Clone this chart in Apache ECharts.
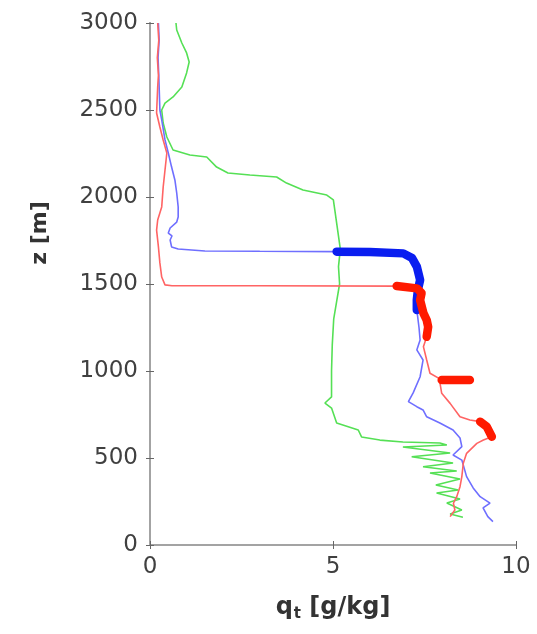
<!DOCTYPE html>
<html>
<head>
<meta charset="utf-8">
<script src="https://cdn.jsdelivr.net/npm/echarts@6/dist/echarts.min.js"></script>
<style>
  html, body { margin: 0; padding: 0; background: #fff; }
  #chart { width: 537px; height: 634px; }
</style>
</head>
<body>
<div id="chart"></div>
<script>
// axis ticks
var xTicks = [0, 5, 10];
var zTicks = [0, 500, 1000, 1500, 2000, 2500, 3000];

// green profile
var greenQ = [0.71, 0.73, 0.87, 1.00, 1.07, 1.00, 0.87, 0.63, 0.41, 0.32, 0.36, 0.46, 0.63, 1.09, 1.55, 1.82, 2.13, 2.73, 3.46, 3.73, 4.18, 4.83, 5.01, 5.05, 5.10, 5.20, 5.15, 5.18, 5.10, 5.02, 4.98, 4.96, 4.96, 4.96, 4.78, 4.96, 5.10, 5.69, 5.78, 6.28, 6.91, 7.92, 8.11, 6.91, 8.20, 7.15, 8.28, 7.46, 8.38, 7.65, 8.47, 7.81, 8.42, 7.83, 8.47, 8.11, 8.52, 8.20, 8.55];
var greenZ = [3000, 2960, 2885, 2828, 2776, 2713, 2632, 2575, 2540, 2500, 2425, 2345, 2270, 2241, 2230, 2172, 2138, 2126, 2115, 2080, 2040, 2011, 1983, 1925, 1850, 1700, 1600, 1500, 1400, 1300, 1150, 1000, 948, 851, 816, 787, 701, 661, 621, 603, 592, 586, 575, 563, 529, 507, 471, 450, 425, 414, 379, 345, 316, 299, 264, 241, 201, 178, 160];

// blue profile
var blueQ = [0.23, 0.25, 0.22, 0.24, 0.25, 0.27, 0.32, 0.41, 0.50, 0.59, 0.68, 0.73, 0.77, 0.77, 0.73, 0.55, 0.50, 0.60, 0.55, 0.59, 0.77, 1.50, 3.00, 5.10, 6.01, 6.92, 7.16, 7.29, 7.38, 7.32, 7.29, 7.29, 7.35, 7.38, 7.29, 7.46, 7.38, 7.19, 7.06, 7.29, 7.46, 7.56, 7.92, 8.28, 8.47, 8.52, 8.28, 8.52, 8.65, 8.83, 9.02, 9.29, 9.10, 9.23, 9.37];
var blueZ = [3000, 2900, 2800, 2700, 2632, 2500, 2443, 2328, 2253, 2172, 2098, 2023, 1943, 1885, 1856, 1822, 1793, 1776, 1753, 1713, 1701, 1690, 1688, 1686, 1684, 1676, 1649, 1600, 1523, 1466, 1408, 1351, 1250, 1178, 1121, 1063, 967, 874, 824, 795, 776, 737, 701, 661, 615, 565, 517, 488, 393, 328, 278, 241, 213, 163, 134];
// blue thick part
var blueCloudQ = [5.10, 6.01, 6.92, 7.16, 7.29, 7.38, 7.32, 7.29, 7.29];
var blueCloudZ = [1686, 1684, 1676, 1649, 1600, 1523, 1466, 1408, 1351];

// red profile
var redQ = [0.21, 0.24, 0.20, 0.23, 0.21, 0.18, 0.27, 0.36, 0.46, 0.41, 0.36, 0.32, 0.21, 0.18, 0.23, 0.27, 0.32, 0.41, 0.60, 3.00, 6.74, 7.29, 7.42, 7.38, 7.47, 7.56, 7.60, 7.56, 7.47, 7.56, 7.65, 7.92, 8.74, 7.92, 7.97, 8.20, 8.47, 8.74, 9.02, 9.20, 9.34, 9.11, 8.93, 8.65, 8.56, 8.52, 8.47, 8.38, 8.29, 8.33, 8.20];
var redZ = [3000, 2900, 2800, 2700, 2632, 2483, 2402, 2328, 2253, 2155, 2057, 1943, 1868, 1810, 1713, 1621, 1540, 1495, 1490, 1490, 1488, 1475, 1448, 1408, 1333, 1293, 1254, 1197, 1140, 1063, 987, 955, 948, 935, 872, 814, 737, 718, 709, 680, 622, 603, 584, 527, 470, 393, 335, 278, 240, 201, 163];
// red thick parts
var redCloud1Q = [6.74, 7.29, 7.42, 7.38, 7.47, 7.56, 7.60, 7.56];
var redCloud1Z = [1488, 1475, 1448, 1408, 1333, 1293, 1254, 1197];
var redCloud2Q = [7.97, 8.74];
var redCloud2Z = [948, 948];
var redCloud3Q = [9.02, 9.20, 9.34];
var redCloud3Z = [709, 680, 622];

function pairs(q, z) {
    var out = [];
    for (var i = 0; i < q.length; i++) out.push([q[i], z[i]]);
    return out;
}

function thin(data, color) {
    return {
        type: 'line', data: data, symbol: 'none', silent: true,
        lineStyle: { color: color, width: 1.6 }
    };
}

function thick(data, color) {
    return {
        type: 'line', data: data, symbol: 'none', silent: true,
        lineStyle: { color: color, width: 8.5, cap: 'round', join: 'round' }
    };
}

var boxColor = '#a3a3a3';
var labelFont = { fontFamily: 'DejaVu Sans', fontSize: 23, color: '#404040' };

var myChart = echarts.init(document.getElementById('chart'));

var option = {
    animation: false,
    backgroundColor: '#fff',
    grid: { left: 150, right: 21, top: 23, bottom: 89 },
    xAxis: [
        {
            type: 'value', min: xTicks[0], max: xTicks[xTicks.length - 1], interval: 5,
            name: '{q|q}{t|t}{u| [g/kg]}',
            nameLocation: 'middle', nameGap: 48,
            nameTextStyle: {
                rich: {
                    q: { fontFamily: 'DejaVu Sans', fontWeight: 'bold', fontSize: 24, color: '#333' },
                    t: { fontFamily: 'DejaVu Sans', fontWeight: 'bold', fontSize: 15, color: '#333', padding: [14, 0, 0, 1] },
                    u: { fontFamily: 'DejaVu Sans', fontWeight: 'bold', fontSize: 24, color: '#333' }
                }
            },
            axisLine: { lineStyle: { color: boxColor, width: 2 } },
            axisTick: { inside: true, length: 4, lineStyle: { color: '#666' } },
            axisLabel: Object.assign({ margin: 11, formatter: function (v) { return String(v); } }, labelFont),
            splitLine: { show: false }
        },
        {
            type: 'value', position: 'top', min: 0, max: 10, interval: 5,
            axisLine: { lineStyle: { color: boxColor, width: 2 } },
            axisTick: { inside: true, length: 4, lineStyle: { color: '#666' } },
            axisLabel: { show: false },
            splitLine: { show: false }
        }
    ],
    yAxis: [
        {
            type: 'value', min: zTicks[0], max: zTicks[zTicks.length - 1], interval: 500,
            axisLine: { show: true, lineStyle: { color: boxColor, width: 2 } },
            axisTick: { show: true, inside: true, length: 4, lineStyle: { color: '#666' } },
            axisLabel: Object.assign({ margin: 12, formatter: function (v) { return String(v); } }, labelFont),
            splitLine: { show: false }
        },
        {
            type: 'value', position: 'right', min: 0, max: 3000, interval: 500,
            axisLine: { show: true, lineStyle: { color: boxColor, width: 2 } },
            axisTick: { show: true, inside: true, length: 4, lineStyle: { color: '#666' } },
            axisLabel: { show: false },
            splitLine: { show: false }
        }
    ],
    graphic: [
        {
            type: 'text', x: 40, y: 233, rotation: Math.PI / 2,
            style: {
                text: 'z [m]', fontFamily: 'DejaVu Sans', fontWeight: 'bold', fontSize: 22,
                fill: '#333', textAlign: 'center', textVerticalAlign: 'middle'
            }
        }
    ],
    series: [
        thin(pairs(greenQ, greenZ), '#55e055'),
        thin(pairs(blueQ, blueZ), '#6f6fff'),
        thick(pairs(blueCloudQ, blueCloudZ), '#0a1ef0'),
        thin(pairs(redQ, redZ), '#ff6464'),
        thick(pairs(redCloud1Q, redCloud1Z), '#ff1a00'),
        thick(pairs(redCloud2Q, redCloud2Z), '#ff1a00'),
        thick(pairs(redCloud3Q, redCloud3Z), '#ff1a00')
    ]
};

myChart.setOption(option);
window.addEventListener('resize', function () {
    myChart.resize();
});
</script>
</body>
</html>
